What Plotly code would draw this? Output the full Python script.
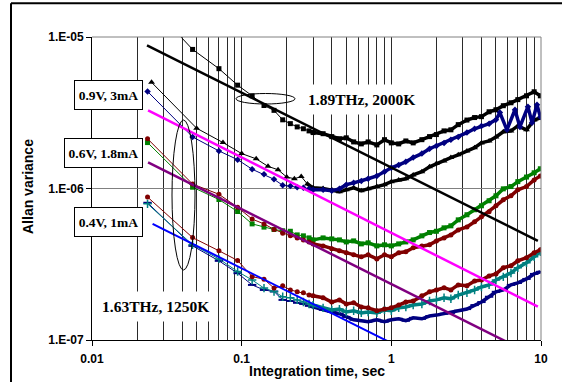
import plotly.graph_objects as go

SANS = "Liberation Sans, Arial, sans-serif"
SERIF = "Liberation Serif, Times New Roman, serif"

# ---- integration times (s) ----
tau_early = [0.0235, 0.047, 0.0705, 0.094, 0.1175, 0.141, 0.1645, 0.188, 0.2115, 0.235, 0.2585, 0.282]
tau_tri_early = [0.025, 0.05, 0.075, 0.1, 0.125, 0.15, 0.175, 0.2, 0.225, 0.25, 0.275]
tau_late = [0.3, 0.35, 0.4, 0.45, 0.5, 0.56, 0.63, 0.7, 0.8, 0.9, 1.0, 1.12, 1.25, 1.4, 1.6,
            1.8, 2.0, 2.25, 2.5, 2.8, 3.2, 3.6, 4.0, 4.5, 5.0, 5.6, 6.3, 7.0, 8.0, 9.0, 9.9]
tau_navy_tail = [5.31, 5.92, 6.70, 7.23, 8.18, 8.71, 9.40, 9.9]

# ---- 1.89 THz, 2000 K ----
sq189_early = [1.72e-5, 8.28e-6, 6.18e-6, 4.81e-6, 4.09e-6, 3.53e-6, 3.28e-6, 2.84e-6, 2.68e-6, 2.55e-6, 2.48e-6, 2.40e-6]
sq189_late = [2.34e-6, 2.30e-6, 2.20e-6, 2.13e-6, 2.16e-6, 2.03e-6, 1.97e-6, 2.03e-6, 1.94e-6, 2.10e-6,
              2.00e-6, 1.97e-6, 2.06e-6, 2.00e-6, 2.10e-6, 2.20e-6, 2.27e-6, 2.40e-6, 2.44e-6, 2.64e-6,
              2.83e-6, 2.94e-6, 2.98e-6, 3.21e-6, 3.31e-6, 3.52e-6, 3.68e-6, 3.86e-6, 4.09e-6, 4.35e-6, 4.09e-6]

# ---- 0.9 V, 3 mA ----
tri09_early = [5.02e-6, 2.50e-6, 2.01e-6, 1.70e-6, 1.57e-6, 1.40e-6, 1.33e-6, 1.19e-6, 1.16e-6, 1.20e-6, 1.07e-6]
tri09_late = [1.01e-6, 1.00e-6, 9.80e-7, 9.51e-7, 9.80e-7, 1.01e-6, 9.66e-7, 9.95e-7, 1.03e-6, 1.06e-6,
              1.11e-6, 1.14e-6, 1.16e-6, 1.23e-6, 1.29e-6, 1.39e-6, 1.46e-6, 1.52e-6, 1.60e-6, 1.67e-6,
              1.77e-6, 1.86e-6, 2.00e-6, 2.06e-6, 2.19e-6, 2.37e-6, 2.40e-6, 2.59e-6, 2.44e-6, 2.83e-6, 2.93e-6]
dia09_early = [4.37e-6, 2.19e-6, 1.77e-6, 1.55e-6, 1.34e-6, 1.24e-6, 1.15e-6, 1.05e-6, 1.04e-6, 1.02e-6, 1.01e-6, 9.95e-7]
dia09_late = [9.80e-7, 9.80e-7, 9.66e-7, 9.95e-7, 1.06e-6, 1.09e-6, 1.12e-6, 1.16e-6, 1.21e-6, 1.29e-6,
              1.37e-6, 1.43e-6, 1.50e-6, 1.60e-6, 1.70e-6, 1.83e-6, 1.91e-6, 2.00e-6, 2.10e-6, 2.19e-6,
              2.34e-6, 2.48e-6, 2.59e-6, 2.68e-6, 2.84e-6,
              3.17e-6, 2.44e-6, 3.31e-6, 2.55e-6, 3.47e-6, 2.72e-6, 3.57e-6, 2.97e-6]

# ---- 0.6 V, 1.8 mA ----
red06_early = [2.13e-6, 1.07e-6, 9.16e-7, 7.51e-7, 6.28e-7, 5.84e-7, 5.37e-7, 5.07e-7, 4.87e-7, 4.72e-7, 4.58e-7, 4.44e-7]
red06_late = [4.31e-7, 4.18e-7, 4.00e-7, 3.88e-7, 3.77e-7, 3.65e-7, 3.54e-7, 3.65e-7, 3.43e-7, 3.65e-7,
              3.54e-7, 3.77e-7, 3.82e-7, 4.06e-7, 4.18e-7, 4.25e-7, 4.51e-7, 4.72e-7, 4.94e-7, 5.33e-7,
              5.58e-7, 6.03e-7, 6.51e-7, 7.02e-7, 7.69e-7, 8.42e-7, 8.95e-7, 9.80e-7, 1.03e-6, 1.14e-6, 1.21e-6]
grn06_early = [2.01e-6, 1.02e-6, 8.46e-7, 7.05e-7, 5.84e-7, 5.56e-7, 5.36e-7, 5.26e-7, 5.22e-7, 4.94e-7, 4.87e-7, 4.72e-7]
grn06_late = [4.58e-7, 4.72e-7, 4.65e-7, 4.58e-7, 4.44e-7, 4.51e-7, 4.31e-7, 4.38e-7, 4.18e-7, 4.25e-7,
              4.18e-7, 4.31e-7, 4.44e-7, 4.58e-7, 4.87e-7, 5.12e-7, 5.22e-7, 5.50e-7, 5.67e-7, 6.21e-7,
              6.71e-7, 7.24e-7, 7.69e-7, 8.30e-7, 8.95e-7, 9.95e-7, 1.03e-6, 1.11e-6, 1.19e-6, 1.27e-6, 1.35e-6]

# ---- 0.4 V, 1 mA ----
red04_early = [8.78e-7, 4.74e-7, 3.88e-7, 3.35e-7, 2.62e-7, 2.52e-7, 2.20e-7, 2.28e-7, 2.14e-7, 2.08e-7, 2.05e-7, 1.98e-7]
red04_late = [1.96e-7, 1.90e-7, 1.78e-7, 1.84e-7, 1.73e-7, 1.76e-7, 1.65e-7, 1.63e-7, 1.56e-7, 1.60e-7,
              1.63e-7, 1.70e-7, 1.78e-7, 1.81e-7, 1.96e-7, 2.08e-7, 2.14e-7, 2.21e-7, 2.14e-7, 2.31e-7,
              2.28e-7, 2.45e-7, 2.49e-7, 2.65e-7, 2.73e-7, 3.00e-7, 3.09e-7, 3.33e-7, 3.49e-7, 3.77e-7, 3.94e-7]
teal04_early = [7.92e-7, 4.25e-7, 3.43e-7, 2.83e-7, 2.49e-7, 2.20e-7, 2.09e-7, 1.93e-7, 1.90e-7, 1.84e-7, 1.78e-7, 1.73e-7]
teal04_late = [1.70e-7, 1.63e-7, 1.58e-7, 1.60e-7, 1.53e-7, 1.56e-7, 1.51e-7, 1.53e-7, 1.51e-7, 1.58e-7,
               1.56e-7, 1.63e-7, 1.65e-7, 1.70e-7, 1.73e-7, 1.81e-7, 1.84e-7, 1.90e-7, 1.87e-7, 1.98e-7,
               2.05e-7, 2.14e-7, 2.24e-7, 2.31e-7, 2.49e-7, 2.61e-7, 2.77e-7, 3.00e-7, 3.23e-7, 3.54e-7, 3.82e-7]
navy04_early = [8.05e-7, 4.18e-7, 3.33e-7, 2.76e-7, 2.31e-7, 2.14e-7, 2.09e-7, 1.84e-7, 1.81e-7, 1.76e-7, 1.73e-7, 1.68e-7]
navy04_late = [1.65e-7, 1.58e-7, 1.53e-7, 1.49e-7, 1.42e-7, 1.36e-7, 1.34e-7, 1.32e-7, 1.36e-7, 1.32e-7,
               1.36e-7, 1.38e-7, 1.34e-7, 1.40e-7, 1.38e-7, 1.44e-7, 1.46e-7, 1.49e-7, 1.51e-7, 1.56e-7,
               1.60e-7, 1.70e-7, 1.78e-7, 1.93e-7, 2.08e-7, 2.14e-7, 2.31e-7, 2.38e-7, 2.53e-7, 2.73e-7, 2.82e-7]

# ---- radiometric fits (start / end points) ----
fit189_tau, fit189_val = [0.0233, 9.53], [8.8e-6, 4.51e-7]
fit09_tau, fit09_val = [0.0237, 9.53], [3.28e-6, 1.66e-7]
fit06_tau, fit06_val = [0.0237, 9.53], [1.49e-6, 7.67e-8]
fit04_tau, fit04_val = [0.0254, 1.0], [5.84e-7, 9.55e-8]

x_ticks = [0.01, 0.1, 1, 10]
x_ticktext = ["0.01", "0.1", "1", "10"]
x_minor = [0.02, 0.03, 0.04, 0.05, 0.06, 0.07, 0.08, 0.09,
           0.2, 0.3, 0.4, 0.5, 0.6, 0.7, 0.8, 0.9,
           2, 3, 4, 5, 6, 7, 8, 9]
y_ticks = [1e-7, 1e-6, 1e-5]
y_ticktext = ["1.E-07", "1.E-06", "1.E-05"]

BLACK, NAVY, MAROON, GREEN, TEAL = "#000000", "#000080", "#800000", "#008000", "#008080"

fig = go.Figure()


def add_series(t_early, v_early, t_late, v_late, color, marker):
    # dense tail drawn as a heavy line, then the full series with its markers
    fig.add_trace(go.Scatter(x=[t_early[-1]] + t_late, y=[v_early[-1]] + v_late, mode="lines",
                             line=dict(color=color, width=3.5), hoverinfo="skip"))
    fig.add_trace(go.Scatter(x=t_early + t_late, y=v_early + v_late, mode="lines+markers",
                             line=dict(color=color, width=1), marker=marker))


add_series(tau_early, sq189_early, tau_late, sq189_late, BLACK,
           dict(symbol="square", size=5, color=BLACK))
add_series(tau_tri_early, tri09_early, tau_late, tri09_late, BLACK,
           dict(symbol="triangle-up", size=6, color=BLACK))
add_series(tau_early, dia09_early, tau_late[:25] + tau_navy_tail, dia09_late, NAVY,
           dict(symbol="diamond", size=5, color=NAVY))
add_series(tau_early, grn06_early, tau_late, grn06_late, GREEN,
           dict(symbol="square", size=5, color=GREEN))
add_series(tau_early, red06_early, tau_late, red06_late, MAROON,
           dict(symbol="circle", size=5, color=MAROON))
add_series(tau_early, navy04_early, tau_late, navy04_late, NAVY,
           dict(symbol="line-ew", size=6, color=NAVY, line=dict(color=NAVY, width=2)))
add_series(tau_early, teal04_early, tau_late, teal04_late, TEAL,
           dict(symbol="cross-thin", size=6, color=TEAL, line=dict(color=TEAL, width=1.5)))
add_series(tau_early, red04_early, tau_late, red04_late, MAROON,
           dict(symbol="circle", size=5, color=MAROON))

for t, v, c, w in [(fit189_tau, fit189_val, BLACK, 2.5),
                   (fit09_tau, fit09_val, "#FF00FF", 2.5),
                   (fit06_tau, fit06_val, "#800080", 2.5),
                   (fit04_tau, fit04_val, "#0000FF", 2)]:
    fig.add_trace(go.Scatter(x=t, y=v, mode="lines", line=dict(color=c, width=w)))

tick_font = dict(family=SANS, size=12, color="black", weight="bold")

fig.update_xaxes(type="log", range=[-2, 1], tickvals=x_ticks, ticktext=x_ticktext,
                 ticks="outside", ticklen=5, tickcolor="black", ticklabelstandoff=3,
                 showline=True, linecolor="black", linewidth=1, zeroline=False,
                 showgrid=True, gridcolor="#2a2a2a", gridwidth=1,
                 minor=dict(tickvals=x_minor, showgrid=True, gridcolor="#2a2a2a", gridwidth=1, ticks=""),
                 tickfont=tick_font)
fig.update_yaxes(type="log", range=[-7, -5], tickvals=y_ticks, ticktext=y_ticktext,
                 ticks="outside", ticklen=5, tickcolor="black",
                 showline=True, linecolor="black", linewidth=1, zeroline=False,
                 showgrid=True, gridcolor="#808080", gridwidth=1,
                 tickfont=tick_font)


def px(x):
    return (x - 92) / 449


def py(y):
    return (340 - y) / 303


label_font = dict(family=SERIF, size=13.5, color="black", weight="bold")
note_font = dict(family=SERIF, size=15.5, color="black", weight="bold")
title_font = dict(family=SANS, size=14, color="black", weight="bold")

boxed = dict(font=label_font, bgcolor="white", bordercolor="black", borderwidth=1, borderpad=3,
             height=22, xanchor="right", yanchor="middle")

annotations = [
    dict(text="Integration time, sec", x=0.5, y=py(371), xanchor="center", yanchor="middle", font=title_font),
    dict(text="Allan variance", x=px(28), y=py(187), xanchor="center", yanchor="middle",
         textangle=-90, font=title_font),
    dict(text="1.89THz, 2000K", x=px(301), y=py(99.5), xanchor="left", yanchor="middle",
         font=note_font, bgcolor="white", borderpad=6),
    dict(text="1.63THz, 1250K", x=px(95), y=py(306), xanchor="left", yanchor="middle",
         font=note_font, bgcolor="white", borderpad=6),
    dict(text="0.9V, 3mA", x=px(142.5), y=py(95.2), width=61, **boxed),
    dict(text="0.6V, 1.8mA", x=px(142.5), y=py(153.3), width=71, **boxed),
    dict(text="0.4V, 1mA", x=px(142.5), y=py(221.7), width=61, **boxed),
]
for a in annotations:
    a.update(xref="paper", yref="paper", showarrow=False)

shapes = [
    # plot-area border (top and right)
    dict(type="line", x0=0, x1=1, y0=1, y1=1, line=dict(color="#808080", width=1)),
    dict(type="line", x0=1, x1=1, y0=0, y1=1, line=dict(color="#808080", width=1)),
    # ellipses marking the curve groups
    dict(type="circle", x0=px(236), x1=px(295), y0=py(104), y1=py(93.5), line=dict(color="black", width=1)),
    dict(type="circle", x0=px(172), x1=px(195), y0=py(270), y1=py(120), line=dict(color="black", width=1)),
    # outer chart frame
    dict(type="line", x0=px(11), x1=1.1, y0=py(3.3), y1=py(3.3), line=dict(color="black", width=2)),
    dict(type="line", x0=px(11), x1=px(11), y0=py(3.3), y1=-0.3, line=dict(color="black", width=2)),
]
for s in shapes:
    s.update(xref="paper", yref="paper")

fig.update_layout(width=562, height=382, margin=dict(l=92, r=21, t=37, b=42),
                  paper_bgcolor="white", plot_bgcolor="white", showlegend=False,
                  annotations=annotations, shapes=shapes)

fig.write_html("out.html")
